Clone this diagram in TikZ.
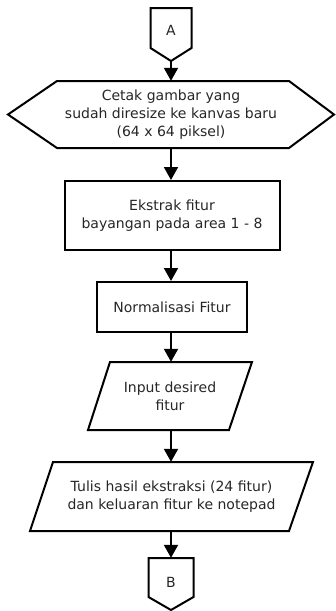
\documentclass[tikz,border=0pt]{standalone}
\usepackage{fontspec}
\setmainfont{DejaVu Sans}
\usetikzlibrary{arrows.meta}
\tikzset{
  lbl/.style={inner sep=0pt, align=center, font=\fontsize{14}{18}\selectfont, text=black!85},
  outline/.style={draw=black, line width=2pt, line join=miter},
  arr/.style={draw=black, line width=2pt, -{Triangle[length=13pt,width=14pt]}}
}
\begin{document}
\begin{tikzpicture}[x=1pt,y=-1pt]
\useasboundingbox (0,0) rectangle (336,611);
% connector A
\node[inner sep=0pt, minimum width=41pt, minimum height=53pt] (A) at (171,34.5) {};
\draw[outline] (150.5,8) -- (191.5,8) -- (191.5,48) -- (171,61) -- (150.5,48) -- cycle;
\node[lbl] (Atxt) at (171,30.5) {A};
% hexagon
\node[inner sep=0pt, minimum width=327pt, minimum height=67pt] (hex) at (171,114.5) {};
\draw[outline] (8,114.5) -- (57,81) -- (289,81) -- (334,114.5) -- (289,148) -- (57,148) -- cycle;
\node[lbl] (hextxt) at (171,114.5) {Cetak gambar yang\\sudah diresize ke kanvas baru\\(64 x 64 piksel)};
% rect 1
\node[outline, lbl, minimum width=215pt, minimum height=69pt] (r1) at (172,215.5) {Ekstrak fitur\\bayangan pada area 1 - 8};
% rect 2
\node[outline, lbl, minimum width=150pt, minimum height=50pt] (r2) at (172,307) {Normalisasi Fitur};
% parallelogram 1
\node[inner sep=0pt, minimum width=164pt, minimum height=68pt] (p1) at (170,396) {};
\draw[outline] (110,362) -- (252,362) -- (229,430) -- (88,430) -- cycle;
\node[lbl] (p1txt) at (170,396) {Input desired\\fitur};
% parallelogram 2
\node[inner sep=0pt, minimum width=283pt, minimum height=69pt] (p2) at (171.5,496.5) {};
\draw[outline] (53,462) -- (313,462) -- (289,531) -- (30,531) -- cycle;
\node[lbl] (p2txt) at (171.5,497) {Tulis hasil ekstraksi (24 fitur)\\dan keluaran fitur ke notepad};
% connector B
\node[inner sep=0pt, minimum width=45pt, minimum height=52pt] (B) at (171,584) {};
\draw[outline] (148.5,558) -- (193.5,558) -- (193.5,597) -- (171,610) -- (148.5,597) -- cycle;
\node[lbl] (Btxt) at (171,582) {B};
% arrows
\draw[arr] (A.south) -- (A.south |- hex.north);
\draw[arr] (hex.south) -- (hex.south |- r1.north);
\draw[arr] (hex.south |- r1.south) -- (hex.south |- r2.north);
\draw[arr] (hex.south |- r2.south) -- (hex.south |- p1.north);
\draw[arr] (hex.south |- p1.south) -- (hex.south |- p2.north);
\draw[arr] (hex.south |- p2.south) -- (B.north);
\end{tikzpicture}
\end{document}
